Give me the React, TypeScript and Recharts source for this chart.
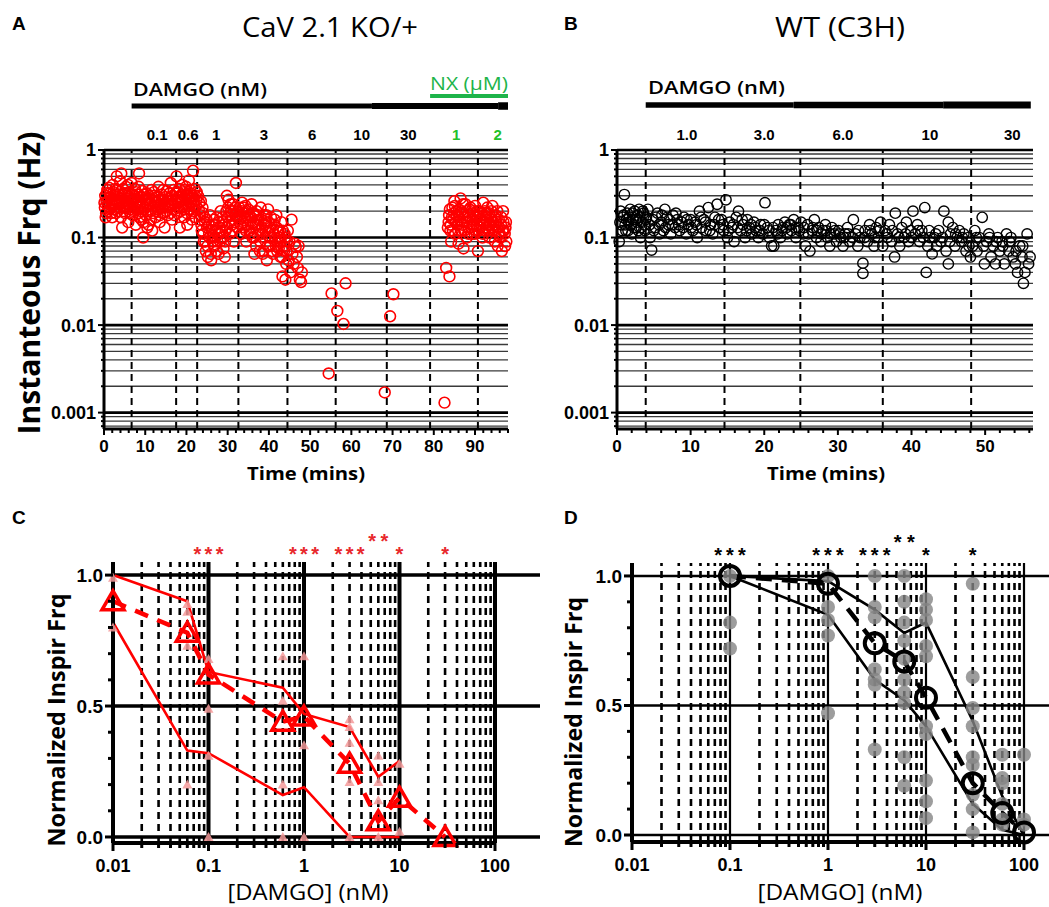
import React from 'react';
import {
  ScatterChart,
  ComposedChart,
  Scatter,
  Line,
  XAxis,
  YAxis,
  ReferenceLine,
  ReferenceDot,
} from 'recharts';

const FONT_TICK = '"Liberation Sans", Arial, sans-serif';
const FONT_TITLE = '"Open Sans", "Noto Sans", sans-serif';

// ---------- Panel A : CaV 2.1 KO/+  [time (min), instantaneous frequency (Hz)]
const timeCourseKO: [number, number][] = [
  [0.2, 0.22], [0.3, 0.3], [0.4, 0.17], [0.6, 0.26], [0.8, 0.35], [1.0, 0.2], [1.1, 0.28], [1.3, 0.24],
  [1.5, 0.32], [1.7, 0.19], [1.9, 0.27], [2.1, 0.4], [2.2, 0.23], [2.4, 0.3], [2.6, 0.21], [2.8, 0.36],
  [3.0, 0.26], [3.1, 0.5], [3.3, 0.2], [3.5, 0.29], [3.7, 0.24], [3.9, 0.44], [4.1, 0.17], [4.2, 0.54],
  [4.4, 0.13], [4.5, 0.31], [4.7, 0.22], [4.9, 0.27], [5.1, 0.19], [5.3, 0.38], [5.5, 0.24], [5.7, 0.3],
  [5.9, 0.15], [6.1, 0.33], [6.3, 0.21], [6.5, 0.26], [6.7, 0.42], [6.9, 0.18],
  [7.1, 0.28], [7.3, 0.22], [7.5, 0.36], [7.7, 0.14], [7.9, 0.25], [8.1, 0.31], [8.3, 0.19], [8.5, 0.54],
  [8.7, 0.23], [8.9, 0.29], [9.1, 0.16], [9.3, 0.34], [9.5, 0.1], [9.7, 0.21], [9.9, 0.27], [10.2, 0.18],
  [10.4, 0.32], [10.6, 0.24], [10.8, 0.14], [11.0, 0.28], [11.3, 0.2], [11.5, 0.35], [11.7, 0.12], [12.0, 0.23],
  [12.2, 0.3], [12.5, 0.17], [12.7, 0.26], [13.0, 0.21], [13.2, 0.38], [13.5, 0.15], [13.7, 0.24], [14.0, 0.31],
  [14.2, 0.19], [14.5, 0.27], [14.7, 0.13], [15.0, 0.22], [15.2, 0.34], [15.5, 0.18], [15.7, 0.28], [16.0, 0.24],
  [16.2, 0.42], [16.5, 0.16], [16.7, 0.3], [17.0, 0.21], [17.3, 0.26],
  [17.6, 0.5], [17.8, 0.19], [18.0, 0.33], [18.2, 0.25], [18.4, 0.13], [18.6, 0.29], [18.8, 0.22], [19.0, 0.4],
  [19.2, 0.27], [19.4, 0.17], [19.6, 0.35], [19.8, 0.24], [20.0, 0.3], [20.2, 0.14], [20.4, 0.26], [20.6, 0.45],
  [20.8, 0.21], [21.0, 0.32], [21.2, 0.19], [21.4, 0.28], [21.6, 0.58], [21.8, 0.23], [22.0, 0.36], [22.2, 0.17],
  [22.4, 0.27],
  [22.8, 0.3], [23.0, 0.21], [23.2, 0.16], [23.5, 0.26], [23.7, 0.12], [24.0, 0.19], [24.2, 0.09], [24.5, 0.15],
  [24.7, 0.07], [25.0, 0.13], [25.2, 0.06], [25.5, 0.11], [25.7, 0.18], [26.0, 0.055], [26.2, 0.1], [26.5, 0.14],
  [26.7, 0.08], [27.0, 0.12], [27.3, 0.17], [27.5, 0.09], [27.8, 0.065], [28.0, 0.13], [28.3, 0.2], [28.5, 0.1],
  [28.8, 0.15], [29.0, 0.075], [29.3, 0.06], [29.5, 0.12], [29.8, 0.3], [30.0, 0.17], [30.2, 0.27], [30.5, 0.11],
  [30.8, 0.2], [31.0, 0.14], [31.3, 0.24], [31.5, 0.09], [31.8, 0.18], [32.0, 0.42], [32.3, 0.13],
  [32.8, 0.22], [33.0, 0.16], [33.3, 0.11], [33.5, 0.25], [33.8, 0.19], [34.0, 0.13], [34.3, 0.23], [34.5, 0.09],
  [34.8, 0.17], [35.0, 0.21], [35.3, 0.12], [35.5, 0.15], [35.8, 0.24], [36.0, 0.1], [36.3, 0.19], [36.5, 0.065],
  [36.8, 0.14], [37.0, 0.2], [37.3, 0.11], [37.5, 0.16], [37.8, 0.07], [38.0, 0.22], [38.3, 0.13], [38.5, 0.065],
  [38.8, 0.18], [39.0, 0.1], [39.3, 0.15], [39.5, 0.055], [39.8, 0.21], [40.0, 0.12], [40.3, 0.08], [40.5, 0.17],
  [40.8, 0.1], [41.0, 0.065], [41.3, 0.14], [41.5, 0.09], [41.8, 0.18], [42.0, 0.07], [42.3, 0.12], [42.5, 0.1],
  [42.8, 0.06], [43.0, 0.15], [43.3, 0.036], [43.5, 0.08], [43.8, 0.11], [44.0, 0.033], [44.3, 0.07],
  [44.6, 0.12], [44.8, 0.055], [45.0, 0.09], [45.2, 0.04], [45.5, 0.16], [45.7, 0.065], [46.0, 0.05], [46.3, 0.085],
  [46.5, 0.078], [46.8, 0.06], [47.0, 0.045], [47.2, 0.08], [47.5, 0.033], [47.8, 0.031], [48.0, 0.04],
  [54.5, 0.0028], [55.2, 0.023], [56.6, 0.0145], [58.1, 0.0103], [58.6, 0.03],
  [68.1, 0.0017], [69.4, 0.0126], [70.2, 0.0225],
  [82.6, 0.0013], [83.0, 0.045], [83.8, 0.036],
  [83.4, 0.13], [83.7, 0.18], [84.0, 0.12], [84.2, 0.09], [84.5, 0.22], [84.7, 0.16], [85.0, 0.26], [85.2, 0.11],
  [85.5, 0.2], [85.7, 0.14], [86.0, 0.085], [86.2, 0.17], [86.5, 0.28], [86.7, 0.12], [87.0, 0.19], [87.2, 0.075],
  [87.5, 0.15], [87.7, 0.24], [88.0, 0.1], [88.2, 0.18], [88.5, 0.13], [88.7, 0.21], [89.0, 0.16], [89.2, 0.11],
  [89.5, 0.19], [89.7, 0.14], [90.0, 0.23], [90.2, 0.12], [90.5, 0.17], [90.7, 0.07], [91.0, 0.2], [91.3, 0.13],
  [91.5, 0.16], [91.8, 0.1], [92.0, 0.25], [92.3, 0.15], [92.5, 0.12], [92.8, 0.19], [93.0, 0.22], [93.3, 0.14],
  [93.5, 0.1], [93.8, 0.17], [94.0, 0.2], [94.3, 0.12], [94.5, 0.15], [94.8, 0.09], [95.0, 0.18], [95.3, 0.13],
  [95.5, 0.08], [95.8, 0.16], [96.0, 0.11], [96.3, 0.14], [96.5, 0.07], [96.8, 0.2], [97.0, 0.12], [97.3, 0.08],
  [97.5, 0.15],
  // denser core of the clusters
  [0.1, 0.25], [0.5, 0.19], [0.7, 0.32], [0.9, 0.23], [1.2, 0.37], [1.4, 0.21], [1.6, 0.29], [1.8, 0.25],
  [2.0, 0.17], [2.3, 0.33], [2.5, 0.27], [2.7, 0.24], [2.9, 0.19], [3.2, 0.35], [3.4, 0.25], [3.6, 0.31],
  [3.8, 0.22], [4.0, 0.28], [4.3, 0.25], [4.6, 0.36], [4.8, 0.2], [5.0, 0.32], [5.2, 0.26], [5.4, 0.22],
  [5.6, 0.28], [5.8, 0.4], [6.0, 0.24], [6.2, 0.29], [6.4, 0.19], [6.6, 0.31], [6.8, 0.25],
  [7.2, 0.2], [7.4, 0.3], [7.6, 0.24], [7.8, 0.33], [8.0, 0.21], [8.2, 0.26], [8.4, 0.38], [8.6, 0.17],
  [8.8, 0.25], [9.0, 0.2], [9.2, 0.29], [9.4, 0.23], [9.6, 0.15], [9.8, 0.31], [10.0, 0.22], [10.3, 0.27],
  [10.5, 0.13], [10.7, 0.2], [10.9, 0.3], [11.2, 0.24], [11.4, 0.16], [11.6, 0.27], [11.9, 0.19], [12.1, 0.33],
  [12.4, 0.25], [12.6, 0.2], [12.9, 0.29], [13.1, 0.23], [13.4, 0.27], [13.6, 0.18], [13.9, 0.26], [14.1, 0.22],
  [14.4, 0.35], [14.6, 0.24], [14.9, 0.29], [15.1, 0.2], [15.4, 0.26], [15.6, 0.23], [15.9, 0.32], [16.1, 0.19],
  [16.4, 0.27], [16.6, 0.23], [16.9, 0.35], [17.1, 0.18], [17.4, 0.32],
  [17.7, 0.27], [17.9, 0.22], [18.1, 0.29], [18.3, 0.36], [18.5, 0.2], [18.7, 0.26], [18.9, 0.31], [19.1, 0.23],
  [19.3, 0.33], [19.5, 0.21], [19.7, 0.28], [19.9, 0.38], [20.1, 0.19], [20.3, 0.31], [20.5, 0.23], [20.7, 0.28],
  [20.9, 0.35], [21.1, 0.25], [21.3, 0.16], [21.5, 0.3], [21.7, 0.26], [21.9, 0.2], [22.1, 0.3], [22.3, 0.23],
  [22.5, 0.33],
  [23.1, 0.25], [23.4, 0.18], [23.6, 0.14], [23.9, 0.22], [24.1, 0.11], [24.4, 0.17], [24.6, 0.09], [24.9, 0.16],
  [25.1, 0.08], [25.4, 0.14], [25.6, 0.1], [25.9, 0.065], [26.1, 0.12], [26.4, 0.09], [26.6, 0.16], [26.9, 0.1],
  [27.1, 0.14], [27.4, 0.07], [27.7, 0.11], [27.9, 0.15], [28.2, 0.09], [28.4, 0.12], [28.7, 0.17], [28.9, 0.1],
  [29.2, 0.14], [29.4, 0.09], [29.7, 0.2], [29.9, 0.13], [30.1, 0.22], [30.4, 0.15], [30.7, 0.24], [30.9, 0.18],
  [31.2, 0.12], [31.4, 0.2], [31.7, 0.15], [31.9, 0.22], [32.2, 0.17], [32.5, 0.2],
  [32.9, 0.18], [33.2, 0.14], [33.4, 0.2], [33.7, 0.15], [33.9, 0.22], [34.2, 0.17], [34.4, 0.12], [34.7, 0.2],
  [34.9, 0.14], [35.2, 0.18], [35.4, 0.11], [35.7, 0.17], [35.9, 0.13], [36.2, 0.15], [36.4, 0.1], [36.7, 0.18],
  [36.9, 0.08], [37.2, 0.14], [37.4, 0.18], [37.7, 0.12], [37.9, 0.09], [38.2, 0.16], [38.4, 0.11], [38.7, 0.07],
  [38.9, 0.14], [39.2, 0.12], [39.4, 0.18], [39.7, 0.08], [39.9, 0.15], [40.2, 0.1], [40.4, 0.13], [40.7, 0.07],
  [40.9, 0.12], [41.2, 0.11], [41.4, 0.16], [41.7, 0.08], [41.9, 0.13], [42.2, 0.09], [42.4, 0.075], [42.7, 0.12],
  [42.9, 0.09], [43.2, 0.06], [43.4, 0.12], [43.7, 0.07], [43.9, 0.1], [44.2, 0.05], [44.4, 0.09],
  [83.6, 0.15], [83.9, 0.21], [84.1, 0.14], [84.4, 0.17], [84.6, 0.12], [84.9, 0.19], [85.1, 0.23], [85.4, 0.15],
  [85.6, 0.18], [85.9, 0.12], [86.1, 0.21], [86.4, 0.16], [86.6, 0.2], [86.9, 0.14], [87.1, 0.24], [87.4, 0.12],
  [87.6, 0.17], [87.9, 0.2], [88.1, 0.15], [88.4, 0.11], [88.6, 0.17], [88.9, 0.22], [89.1, 0.13], [89.4, 0.16],
  [89.6, 0.2], [89.9, 0.11], [90.1, 0.17], [90.4, 0.14], [90.6, 0.2], [90.9, 0.12], [91.1, 0.16], [91.4, 0.19],
  [91.7, 0.14], [91.9, 0.11], [92.2, 0.18], [92.4, 0.2], [92.7, 0.13], [92.9, 0.16], [93.2, 0.12], [93.4, 0.19],
  [93.7, 0.14], [93.9, 0.16], [94.2, 0.23], [94.4, 0.13], [94.7, 0.17], [94.9, 0.12], [95.2, 0.15], [95.4, 0.2],
  [95.7, 0.11], [95.9, 0.13], [96.2, 0.1], [96.4, 0.17], [96.7, 0.12], [96.9, 0.15], [97.2, 0.11], [97.4, 0.13],
  [97.6, 0.09],
];

// ---------- Panel B : WT (C3H)
const timeCourseWT: [number, number][] = [
  [0.3, 0.09], [0.5, 0.2], [0.6, 0.14], [0.8, 0.17], [1.0, 0.31], [1.2, 0.12], [1.4, 0.19], [1.6, 0.15],
  [1.8, 0.21], [2.0, 0.11], [2.2, 0.16], [2.4, 0.2], [2.6, 0.13], [2.8, 0.18], [3.0, 0.21], [3.2, 0.1],
  [3.4, 0.15], [3.6, 0.19], [3.8, 0.12],
  [4.0, 0.17], [4.2, 0.21], [4.5, 0.1], [4.7, 0.072], [4.9, 0.16], [5.2, 0.13], [5.5, 0.19], [5.8, 0.11],
  [6.0, 0.15], [6.3, 0.12], [6.5, 0.21], [6.8, 0.17], [7.0, 0.14], [7.3, 0.11], [7.6, 0.18], [7.9, 0.13],
  [8.2, 0.16], [8.5, 0.12], [8.8, 0.15], [9.1, 0.17], [9.4, 0.11], [9.7, 0.14], [10.0, 0.16], [10.3, 0.12],
  [10.6, 0.15], [10.9, 0.1], [11.2, 0.2], [11.5, 0.13], [11.8, 0.16], [12.1, 0.12], [12.4, 0.22], [12.7, 0.14],
  [13.0, 0.11], [13.3, 0.17], [13.6, 0.24], [13.9, 0.13], [14.2, 0.16], [14.5, 0.12],
  [14.8, 0.27], [15.0, 0.1], [15.3, 0.15], [15.6, 0.13], [15.9, 0.09], [16.2, 0.17], [16.5, 0.2], [16.8, 0.12],
  [17.1, 0.14], [17.4, 0.1], [17.7, 0.16], [18.0, 0.13], [18.3, 0.11], [18.6, 0.15], [18.9, 0.12], [19.2, 0.1],
  [19.5, 0.14], [19.8, 0.11], [20.1, 0.25], [20.4, 0.13], [20.7, 0.1], [21.0, 0.08], [21.3, 0.08], [21.6, 0.12],
  [21.9, 0.14], [22.2, 0.1], [22.5, 0.13], [22.8, 0.15], [23.1, 0.11], [23.4, 0.14], [23.7, 0.12], [24.0, 0.16],
  [24.3, 0.1], [24.6, 0.13],
  [25.0, 0.15], [25.3, 0.11], [25.6, 0.08], [25.9, 0.14], [26.2, 0.07], [26.5, 0.12], [26.8, 0.16], [27.1, 0.1],
  [27.4, 0.13], [27.7, 0.09], [28.0, 0.12], [28.3, 0.14], [28.6, 0.1], [28.9, 0.08], [29.2, 0.13], [29.5, 0.11],
  [29.8, 0.09], [30.1, 0.12], [30.4, 0.1], [30.7, 0.08], [31.0, 0.11], [31.3, 0.13], [31.6, 0.09], [32.1, 0.16],
  [32.4, 0.11], [32.7, 0.08], [33.0, 0.1], [33.4, 0.051], [33.4, 0.039], [33.7, 0.12], [34.0, 0.09], [34.3, 0.14],
  [34.6, 0.11], [34.9, 0.08], [35.2, 0.13], [35.5, 0.1], [35.8, 0.15],
  [36.1, 0.08], [36.4, 0.12], [36.7, 0.1], [37.0, 0.14], [37.3, 0.09], [37.7, 0.06], [37.8, 0.19], [38.1, 0.11],
  [38.4, 0.08], [38.7, 0.13], [39.0, 0.1], [39.3, 0.15], [39.6, 0.09], [39.9, 0.12], [40.2, 0.2], [40.5, 0.11],
  [40.8, 0.14], [41.1, 0.09], [41.4, 0.12], [41.8, 0.22], [42.0, 0.04], [42.2, 0.08], [42.5, 0.1], [42.8, 0.065],
  [43.1, 0.1], [43.4, 0.08], [43.7, 0.12], [44.0, 0.09], [44.4, 0.2], [44.7, 0.07], [45.0, 0.15], [45.0, 0.05],
  [45.3, 0.11], [45.6, 0.13], [45.9, 0.08], [46.2, 0.1], [46.5, 0.12], [46.8, 0.09], [47.1, 0.11], [47.4, 0.07],
  [47.7, 0.1],
  [48.0, 0.06], [48.3, 0.08], [48.6, 0.12], [48.9, 0.07], [49.2, 0.1], [49.6, 0.17], [49.9, 0.05], [50.2, 0.09],
  [50.5, 0.11], [50.8, 0.06], [51.1, 0.08], [51.4, 0.05], [51.7, 0.1], [52.0, 0.07], [52.3, 0.09], [52.6, 0.05],
  [52.9, 0.11], [53.2, 0.07], [53.5, 0.1], [53.8, 0.06], [54.1, 0.05], [54.4, 0.04], [54.7, 0.08], [55.0, 0.06],
  [55.2, 0.03], [55.4, 0.04], [55.7, 0.11], [56.1, 0.06],
  // denser core
  [0.4, 0.15], [0.7, 0.12], [0.9, 0.18], [1.1, 0.14], [1.3, 0.16], [1.5, 0.12], [1.7, 0.17], [1.9, 0.14],
  [2.1, 0.19], [2.3, 0.13], [2.5, 0.16], [2.7, 0.15], [2.9, 0.12], [3.1, 0.17], [3.3, 0.13], [3.5, 0.2],
  [3.7, 0.14], [3.9, 0.16], [4.4, 0.14], [5.0, 0.12], [5.3, 0.17], [5.7, 0.14], [6.1, 0.18], [6.6, 0.13],
  [7.1, 0.16], [7.5, 0.14], [8.0, 0.19], [8.4, 0.14], [9.0, 0.13], [9.5, 0.16], [10.1, 0.13], [10.8, 0.14],
  [11.4, 0.17], [12.0, 0.15], [12.6, 0.12], [13.2, 0.14], [13.8, 0.16], [14.4, 0.14], [15.1, 0.12], [15.8, 0.14],
  [16.4, 0.13], [17.0, 0.16], [17.6, 0.12], [18.2, 0.14], [18.8, 0.13], [19.4, 0.12], [20.0, 0.14], [20.6, 0.12],
  [21.2, 0.13], [21.8, 0.11], [22.4, 0.12], [23.0, 0.13], [23.6, 0.14], [24.2, 0.13], [24.8, 0.12], [25.4, 0.13],
  [26.0, 0.11], [26.6, 0.13], [27.2, 0.12], [27.8, 0.11], [28.4, 0.12], [29.0, 0.11], [29.6, 0.12], [30.2, 0.11],
  [30.8, 0.1], [31.4, 0.11], [32.0, 0.1], [32.8, 0.12], [33.6, 0.1], [34.4, 0.12], [35.0, 0.1], [35.6, 0.12],
  [36.6, 0.11], [37.4, 0.12], [38.3, 0.1], [39.2, 0.11], [40.0, 0.1], [40.9, 0.12], [41.6, 0.1], [42.4, 0.12],
  [43.3, 0.11], [44.2, 0.1], [45.2, 0.09], [46.0, 0.11], [46.9, 0.1], [47.8, 0.08], [48.8, 0.1], [49.8, 0.08],
  [50.6, 0.1], [51.5, 0.09], [52.4, 0.08], [53.3, 0.09], [54.2, 0.07], [55.1, 0.08], [55.9, 0.05],
];

// drug-change times (min) and dose labels
const eventTimesKO = [6.7, 17.5, 22.6, 32.6, 44.5, 56.2, 68.6, 79.1, 90.7];
const doseLabelsKO = ['0.1', '0.6', '1', '3', '6', '10', '30', '1', '2'];
const doseLabelTimesKO = [12.9, 20.4, 27.2, 38.8, 50.5, 62.5, 73.8, 85.4, 95.5];
const doseLabelIsNX = [false, false, false, false, false, false, false, true, true];
const eventTimesWT = [3.9, 14.6, 24.9, 36.1, 48.1];
const doseLabelsWT = ['1.0', '3.0', '6.0', '10', '30'];
const doseLabelTimesWT = [9.5, 20.0, 30.7, 42.5, 53.7];

const logMajor = [0.001, 0.01, 0.1, 1];
const logMinor = [
  0.0007, 0.0008, 0.0009, 0.002, 0.003, 0.004, 0.005, 0.006, 0.007, 0.008, 0.009,
  0.02, 0.03, 0.04, 0.05, 0.06, 0.07, 0.08, 0.09, 0.2, 0.3, 0.4, 0.5, 0.6, 0.7, 0.8, 0.9,
];
const timeMajorKO = [0, 10, 20, 30, 40, 50, 60, 70, 80, 90];
const timeMajorWT = [0, 10, 20, 30, 40, 50];

// ---------- Panel C (KO dose-response)
const doseC = [0.01, 0.06, 0.1, 0.6, 1, 3, 6, 10, 30];
const meanC = [0.9, 0.78, 0.62, 0.44, 0.46, 0.28, 0.06, 0.15, 0.0];
const upperC = [1.0, 0.9, 0.63, 0.57, 0.47, 0.42, 0.23, 0.29];
const lowerC = [0.82, 0.33, 0.32, 0.16, 0.19, 0.0, 0.0, 0.0];
const indivC: [number, number][] = [
  [0.01, 0.99], [0.01, 0.8],
  [0.06, 0.89], [0.06, 0.86], [0.06, 0.73], [0.06, 0.2],
  [0.1, 0.68], [0.1, 0.49], [0.1, 0.31], [0.1, 0.0],
  [0.6, 0.69], [0.6, 0.52], [0.6, 0.2], [0.6, 0.0],
  [1, 0.69], [1, 0.35], [1, 0.0],
  [3, 0.45], [3, 0.42], [3, 0.36], [3, 0.21], [3, 0.0],
  [6, 0.31], [6, 0.21], [6, 0.14], [6, 0.0],
  [10, 0.28], [10, 0.02],
];
const starsC = ['***', '***', '***', '**', '*', '*'];
const starDosesC = [0.1, 1, 3, 6, 10, 30];

// ---------- Panel D (WT dose-response)
const doseD = [0.1, 1, 3, 6, 10, 30, 60, 100];
const meanD = [1.0, 0.97, 0.74, 0.67, 0.53, 0.2, 0.085, 0.01];
const upperD = [1.0, 0.98, 0.87, 0.78, 0.82, 0.44, 0.15, 0.0];
const lowerD = [1.0, 0.85, 0.6, 0.52, 0.42, 0.12, 0.02, 0.0];
const indivD: [number, number][] = [
  [0.1, 1.0], [0.1, 0.82], [0.1, 0.72],
  [1, 1.0], [1, 0.88], [1, 0.83], [1, 0.77], [1, 0.47],
  [3, 1.0], [3, 0.88], [3, 0.84], [3, 0.64], [3, 0.6], [3, 0.58], [3, 0.33],
  [6, 1.0], [6, 0.9], [6, 0.82], [6, 0.75], [6, 0.68], [6, 0.6], [6, 0.55], [6, 0.51], [6, 0.3], [6, 0.19],
  [10, 0.91], [10, 0.87], [10, 0.83], [10, 0.73], [10, 0.69], [10, 0.42], [10, 0.39], [10, 0.21], [10, 0.13], [10, 0.065],
  [30, 0.97], [30, 0.61], [30, 0.49], [30, 0.42], [30, 0.3], [30, 0.27], [30, 0.155], [30, 0.1], [30, 0.01],
  [60, 0.31], [60, 0.22], [60, 0.2], [60, 0.12], [60, 0.06], [60, 0.04],
  [100, 0.31], [100, 0.06], [100, 0.04],
];
const starsD = ['***', '***', '***', '**', '*', '*'];
const starDosesD = [0.1, 1, 3, 6, 10, 30];

const doseTicks = [
  0.01, 0.02, 0.03, 0.04, 0.05, 0.06, 0.07, 0.08, 0.09,
  0.1, 0.2, 0.3, 0.4, 0.5, 0.6, 0.7, 0.8, 0.9,
  1, 2, 3, 4, 5, 6, 7, 8, 9,
  10, 20, 30, 40, 50, 60, 70, 80, 90, 100,
];
const doseMajor = [0.01, 0.1, 1, 10, 100];
const normTicks = [0, 0.1, 0.2, 0.3, 0.4, 0.5, 0.6, 0.7, 0.8, 0.9, 1];
const normMajor = [0, 0.5, 1];

// ---------- helpers
const isIn = (arr: number[], v: number) => arr.some((m) => Math.abs(m - v) < 1e-9);

const bottomTick = (majors: number[], fmt: (v: number) => string, fs: number, majLen: number, minLen: number, sw: number, gap: number) =>
  (props: any) => {
    const { x, y, payload } = props;
    const v = payload.value;
    const major = isIn(majors, v);
    return (
      <g>
        <line x1={x} x2={x} y1={y} y2={y + (major ? majLen : minLen)} stroke="#000" strokeWidth={sw} />
        {major && (
          <text x={x} y={y + gap} textAnchor="middle" fontFamily={FONT_TICK} fontWeight="bold" fontSize={fs} fill="#000">
            {fmt(v)}
          </text>
        )}
      </g>
    );
  };

const leftTick = (majors: number[], fmt: (v: number) => string, fs: number, majLen: number, minLen: number, sw: number, gap: number) =>
  (props: any) => {
    const { x, y, payload } = props;
    const v = payload.value;
    const major = isIn(majors, v);
    return (
      <g>
        <line x1={x - (major ? majLen : minLen)} x2={x} y1={y} y2={y} stroke="#000" strokeWidth={sw} />
        {major && (
          <text x={x - gap} y={y + fs * 0.36} textAnchor="end" fontFamily={FONT_TICK} fontWeight="bold" fontSize={fs} fill="#000">
            {fmt(v)}
          </text>
        )}
      </g>
    );
  };

const redCircle = (p: any) => <circle cx={p.cx} cy={p.cy} r={5.4} fill="none" stroke="#ff0000" strokeWidth={1.6} />;
const blackCircle = (p: any) => <circle cx={p.cx} cy={p.cy} r={5.2} fill="none" stroke="#000" strokeWidth={1.4} />;
const bigTriangle = (p: any) => (
  <path d={`M${p.cx},${p.cy - 10.5} L${p.cx + 11},${p.cy + 8.5} L${p.cx - 11},${p.cy + 8.5} Z`} fill="none" stroke="#ff0000" strokeWidth={3.5} strokeLinejoin="miter" />
);
const smallTriangle = (p: any) => (
  <path d={`M${p.cx},${p.cy - 5} L${p.cx + 5},${p.cy + 4} L${p.cx - 5},${p.cy + 4} Z`} fill="#f49a9a" fillOpacity={0.85} />
);
const greyDot = (p: any) => <circle cx={p.cx} cy={p.cy} r={7} fill="#858585" fillOpacity={0.8} />;
const bigCircle = (p: any) => <circle cx={p.cx} cy={p.cy} r={10} fill="none" stroke="#000" strokeWidth={4} />;

const toTF = (arr: [number, number][]) => arr.map(([t, f]) => ({ t, f }));
const toXY = (arr: [number, number][]) => arr.map(([x, y]) => ({ x, y }));
const zipXY = (xs: number[], ys: number[]) => ys.map((y, i) => ({ x: xs[i], y }));

const TimePanel = (props: {
  data: [number, number][];
  xMax: number;
  majors: number[];
  events: number[];
  labels: string[];
  labelTimes: number[];
  labelNX?: boolean[];
  width: number;
  margin: any;
  shape: any;
  bars: { x1: number; x2: number; y: number; w: number; color: string }[];
}) => {
  const ticks: number[] = [];
  for (let v = 0; v <= props.xMax; v += 2) ticks.push(v);
  return (
    <ScatterChart width={props.width} height={500} margin={props.margin}>
      <XAxis
        type="number"
        dataKey="t"
        domain={[0, props.xMax]}
        ticks={ticks}
        interval={0}
        tickSize={0}
        tickMargin={0}
        height={40}
        axisLine={{ stroke: '#000', strokeWidth: 3 }}
        tickLine={false}
        tick={bottomTick(props.majors, (v) => String(v), 17, 6, 4, 2, 23)}
      />
      <YAxis
        type="number"
        dataKey="f"
        scale="log"
        domain={[0.00065, 1]}
        ticks={[...logMinor, ...logMajor]}
        interval={0}
        tickSize={0}
        tickMargin={0}
        width={60}
        axisLine={{ stroke: '#000', strokeWidth: 3 }}
        tickLine={false}
        tick={leftTick(logMajor, (v) => String(v), 18, 6, 3, 2, 8)}
      />
      {logMinor.map((v) => (
        <ReferenceLine key={'mn' + v} y={v} stroke="#3a3a3a" strokeWidth={1.3} />
      ))}
      {logMajor.map((v) => (
        <ReferenceLine key={'mj' + v} y={v} stroke="#000" strokeWidth={2.6} />
      ))}
      {props.events.map((t) => (
        <ReferenceLine key={'ev' + t} x={t} stroke="#000" strokeWidth={2} strokeDasharray="7 5" />
      ))}
      {props.bars.map((b, i) => (
        <ReferenceLine
          key={'bar' + i}
          segment={[{ x: b.x1, y: b.y }, { x: b.x2, y: b.y }]}
          stroke={b.color}
          strokeWidth={b.w}
          ifOverflow="visible"
        />
      ))}
      {props.labels.map((lab, i) => (
        <ReferenceDot
          key={'lab' + i}
          x={props.labelTimes[i]}
          y={1.31}
          r={0}
          ifOverflow="visible"
          shape={(p: any) => (
            <text
              x={p.cx}
              y={p.cy}
              textAnchor="middle"
              fontFamily={FONT_TICK}
              fontWeight="bold"
              fontSize={15}
              fill={props.labelNX && props.labelNX[i] ? '#22c12a' : '#000'}
            >
              {lab}
            </text>
          )}
        />
      ))}
      <Scatter data={toTF(props.data)} shape={props.shape} isAnimationActive={false} />
    </ScatterChart>
  );
};

const DosePanel = (props: {
  width: number;
  margin: any;
  yMin: number;
  color: string;
  thickDecade: number;
  hLineW: number;
  hLineMaxX: number;
  indiv: [number, number][];
  indivShape: any;
  doses: number[];
  mean: number[];
  upper: number[];
  lower: number[];
  meanShape: any;
  meanDash: string;
  stars: string[];
  starDoses: number[];
  starColor: string;
  starWidth: number;
}) => {
  const minorDoses = doseTicks.filter((v) => !isIn(doseMajor, v));
  return (
    <ComposedChart width={props.width} height={467} margin={props.margin}>
      <XAxis
        type="number"
        dataKey="x"
        scale="log"
        domain={[0.01, 100]}
        ticks={doseTicks}
        interval={0}
        tickSize={0}
        tickMargin={0}
        height={40}
        axisLine={{ stroke: '#000', strokeWidth: 4 }}
        tickLine={false}
        tick={bottomTick(doseMajor, (v) => String(v), 18, 8, 5, 3, 29)}
      />
      <YAxis
        type="number"
        dataKey="y"
        domain={[props.yMin, 1.05]}
        ticks={normTicks}
        interval={0}
        tickSize={0}
        tickMargin={0}
        width={60}
        axisLine={{ stroke: '#000', strokeWidth: 4 }}
        tickLine={false}
        tick={leftTick(normMajor, (v) => v.toFixed(1), 19, 8, 5, 3, 10)}
      />
      {minorDoses.map((v) => (
        <ReferenceLine key={'dd' + v} x={v} stroke="#000" strokeWidth={2.6} strokeDasharray="7 5" />
      ))}
      {doseMajor.slice(1).map((v) => (
        <ReferenceLine key={'dm' + v} x={v} stroke="#000" strokeWidth={props.thickDecade} />
      ))}
      {normMajor.map((v) => (
        <ReferenceLine
          key={'hn' + v}
          segment={[{ x: 0.01, y: v }, { x: props.hLineMaxX, y: v }]}
          stroke="#000"
          strokeWidth={props.hLineW}
          ifOverflow="visible"
        />
      ))}
      <Scatter data={toXY(props.indiv)} shape={props.indivShape} isAnimationActive={false} />
      <Line
        data={zipXY(props.doses, props.upper)}
        dataKey="y"
        stroke={props.color}
        strokeWidth={2.6}
        dot={false}
        isAnimationActive={false}
      />
      <Line
        data={zipXY(props.doses, props.lower)}
        dataKey="y"
        stroke={props.color}
        strokeWidth={2.6}
        dot={false}
        isAnimationActive={false}
      />
      <Line
        data={zipXY(props.doses, props.mean)}
        dataKey="y"
        stroke={props.color}
        strokeWidth={4.5}
        strokeDasharray={props.meanDash}
        dot={false}
        isAnimationActive={false}
      />
      <Scatter data={zipXY(props.doses, props.mean)} shape={props.meanShape} isAnimationActive={false} />
      {props.stars.map((s, i) => (
        <ReferenceDot
          key={'st' + i}
          x={props.starDoses[i]}
          y={s.length === 2 ? 1.105 : 1.052}
          r={0}
          ifOverflow="visible"
          shape={(p: any) => (
            <text
              x={p.cx}
              y={p.cy}
              textAnchor="middle"
              fontFamily={FONT_TICK}
              fontWeight="bold"
              fontSize={20}
              fill={props.starColor}
              textLength={props.starWidth * s.length}
              lengthAdjust="spacing"
            >
              {s}
            </text>
          )}
        />
      ))}
    </ComposedChart>
  );
};

export default function App() {
  return (
    <div style={{ position: 'absolute', left: 0, top: 0, width: 1049, height: 907, background: '#fff', overflow: 'hidden' }}>
      <div style={{ position: 'absolute', left: 0, top: 0 }}>
        <TimePanel
          data={timeCourseKO}
          xMax={98}
          majors={timeMajorKO}
          events={eventTimesKO}
          labels={doseLabelsKO}
          labelTimes={doseLabelTimesKO}
          labelNX={doseLabelIsNX}
          width={540}
          margin={{ top: 150, right: 32, bottom: 31, left: 44 }}
          shape={redCircle}
          bars={[
            { x1: 6.7, x2: 65, y: 3.18, w: 5, color: '#000' },
            { x1: 65, x2: 95.6, y: 3.18, w: 6, color: '#000' },
            { x1: 95.6, x2: 98, y: 3.18, w: 7.5, color: '#000' },
            { x1: 79.1, x2: 98, y: 4.14, w: 4, color: '#1db44a' },
          ]}
        />
      </div>
      <div style={{ position: 'absolute', left: 540, top: 0 }}>
        <TimePanel
          data={timeCourseWT}
          xMax={56.5}
          majors={timeMajorWT}
          events={eventTimesWT}
          labels={doseLabelsWT}
          labelTimes={doseLabelTimesWT}
          width={509}
          margin={{ top: 150, right: 16, bottom: 31, left: 17 }}
          shape={blackCircle}
          bars={[
            { x1: 3.9, x2: 24, y: 3.27, w: 5.5, color: '#000' },
            { x1: 24, x2: 44.3, y: 3.27, w: 6.5, color: '#000' },
            { x1: 44.3, x2: 56.2, y: 3.27, w: 7, color: '#000' },
          ]}
        />
      </div>
      <div style={{ position: 'absolute', left: 0, top: 440 }}>
        <DosePanel
          width={540}
          margin={{ top: 122, right: 45, bottom: 24, left: 53 }}
          yMin={-0.023}
          color="#ff0000"
          thickDecade={4}
          hLineW={3.5}
          hLineMaxX={300}
          indiv={indivC}
          indivShape={smallTriangle}
          doses={doseC}
          mean={meanC}
          upper={upperC}
          lower={lowerC}
          meanShape={bigTriangle}
          meanDash="14 10"
          stars={starsC}
          starDoses={starDosesC}
          starColor="#e8282c"
          starWidth={10}
        />
      </div>
      <div style={{ position: 'absolute', left: 540, top: 440 }}>
        <DosePanel
          width={509}
          margin={{ top: 123, right: 25, bottom: 25, left: 32 }}
          yMin={-0.027}
          color="#000"
          thickDecade={2.2}
          hLineW={2.6}
          hLineMaxX={200}
          indiv={indivD}
          indivShape={greyDot}
          doses={doseD}
          mean={meanD}
          upper={upperD}
          lower={lowerD}
          meanShape={bigCircle}
          meanDash="16 10"
          stars={starsD}
          starDoses={starDosesD}
          starColor="#000"
          starWidth={10.5}
        />
      </div>
      <svg width={1049} height={907} style={{ position: 'absolute', left: 0, top: 0, pointerEvents: 'none' }}>
        <g fontFamily={FONT_TICK} fontWeight="bold" fontSize={19} fill="#000">
          <text x={12} y={30}>A</text>
          <text x={564} y={30}>B</text>
          <text x={12} y={524}>C</text>
          <text x={564} y={524}>D</text>
        </g>
        <g fontFamily={FONT_TITLE} fill="#000">
          <text x={330} y={37} textAnchor="middle" fontSize={28} textLength={176} lengthAdjust="spacingAndGlyphs">CaV 2.1 KO/+</text>
          <text x={840} y={37} textAnchor="middle" fontSize={28} textLength={130} lengthAdjust="spacingAndGlyphs">WT (C3H)</text>
          <text x={133} y={96} fontSize={18} fontWeight={600} textLength={134} lengthAdjust="spacingAndGlyphs">DAMGO (nM)</text>
          <text x={648} y={94} fontSize={18} fontWeight={600} textLength={137} lengthAdjust="spacingAndGlyphs">DAMGO (nM)</text>
          <text x={430} y={90} fontSize={18} fill="#1db44a" textLength={78} lengthAdjust="spacingAndGlyphs">NX (μM)</text>
          <text x={40} y={283} transform="rotate(-90 40 283)" textAnchor="middle" fontSize={30} fontWeight="bold" textLength={303} lengthAdjust="spacingAndGlyphs">Instanteous Frq (Hz)</text>
          <text x={306} y={480} textAnchor="middle" fontSize={18} fontWeight="bold" textLength={118} lengthAdjust="spacingAndGlyphs">Time (mins)</text>
          <text x={826} y={480} textAnchor="middle" fontSize={18} fontWeight="bold" textLength={118} lengthAdjust="spacingAndGlyphs">Time (mins)</text>
          <text x={65} y={720} transform="rotate(-90 65 720)" textAnchor="middle" fontSize={24} fontWeight="bold" textLength={253} lengthAdjust="spacingAndGlyphs">Normalized Inspir Frq</text>
          <text x={582} y={722} transform="rotate(-90 582 722)" textAnchor="middle" fontSize={24} fontWeight="bold" textLength={250} lengthAdjust="spacingAndGlyphs">Normalized Inspir Frq</text>
          <text x={308} y={900} textAnchor="middle" fontSize={21} textLength={161} lengthAdjust="spacingAndGlyphs">[DAMGO] (nM)</text>
          <text x={840} y={900} textAnchor="middle" fontSize={21} textLength={165} lengthAdjust="spacingAndGlyphs">[DAMGO] (nM)</text>
        </g>
      </svg>
    </div>
  );
}
